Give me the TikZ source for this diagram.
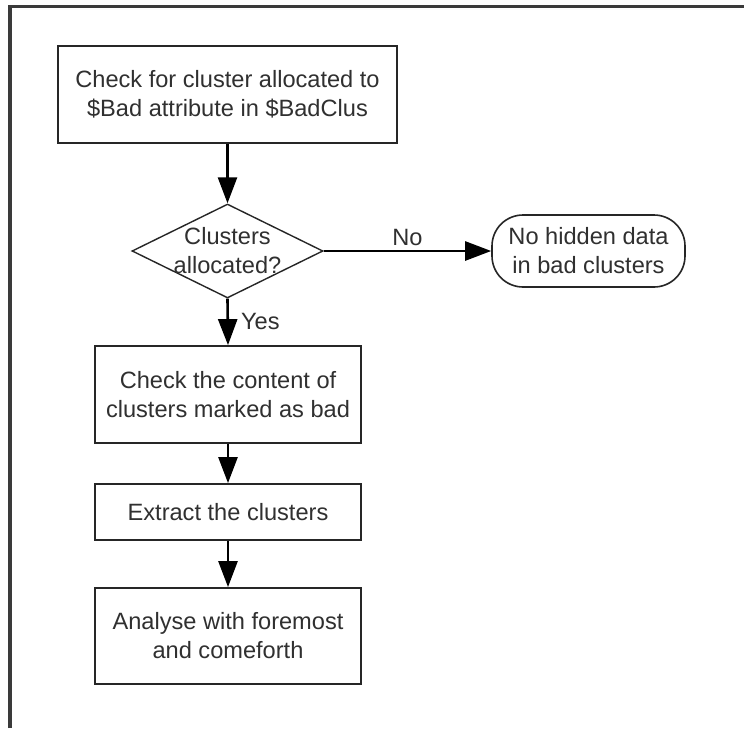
\documentclass[tikz,border=0pt]{standalone}
\usepackage{fontspec}
\setmainfont{Liberation Sans}
\usetikzlibrary{shapes.geometric,arrows.meta}
\definecolor{ink}{HTML}{262626}
\definecolor{txt}{HTML}{303030}
\definecolor{framec}{HTML}{3A3A3A}
\tikzset{
  chartfont/.style={font=\fontsize{23.6}{29}\selectfont, text=txt},
  stepbox/.style={draw=ink, line width=1.8pt, rectangle, inner sep=0pt,
    align=center, chartfont},
  decision/.style={draw=ink, line width=1.4pt, diamond, inner sep=0pt, aspect=2},
  endcap/.style={draw=ink, line width=1.6pt, rectangle, rounded corners=31pt,
    inner sep=0pt, align=center, chartfont},
  flow/.style={draw=black, line width=2.6pt,
    -{Triangle[length=26pt,width=19pt]}},
  tag/.style={chartfont, inner sep=1pt},
}
\begin{document}
\begin{tikzpicture}[x=1pt,y=-1pt]
  \useasboundingbox (0,0) rectangle (744,728);
  \fill[white] (0,0) rectangle (744,728);

  % outer frame: only the left and top edges are visible
  \coordinate (frameBL) at (10,728);
  \coordinate (frameTL) at (10,6.5);
  \coordinate (frameTR) at (744,6.5);
  \draw[framec, line width=3.5pt] (frameBL) -- (frameTL) -- (frameTR);

  % nodes
  \node[stepbox, minimum width=339pt, minimum height=97pt] (check) at (227.5,94.5)
    {Check for cluster allocated to\\\$Bad attribute in \$BadClus};
  \node[decision, minimum width=191pt, minimum height=94pt,
    label={[chartfont, align=center, inner sep=0pt]center:Clusters\\allocated?}]
    (alloc) at (227.5,251) {};
  \node[endcap, minimum width=193pt, minimum height=72pt] (nohidden) at (588.5,251)
    {No hidden data\\in bad clusters};
  \node[stepbox, minimum width=266pt, minimum height=97pt] (content) at (228,394.5)
    {Check the content of\\clusters marked as bad};
  \node[stepbox, minimum width=266pt, minimum height=56pt] (extract) at (228,512)
    {Extract the clusters};
  \node[stepbox, minimum width=266pt, minimum height=96pt] (analyse) at (228,636)
    {Analyse with foremost\\and comeforth};

  % connectors
  \draw[flow] (check.south) -- (alloc.north);
  \draw[flow] (alloc.east) -- node[tag, midway, above=3pt] {No} (nohidden.west);
  \draw[flow] (alloc.south) -- node[tag, midway, right=11pt] {Yes} (content.north);
  \draw[flow] (content.south) -- (extract.north);
  \draw[flow] (extract.south) -- (analyse.north);
\end{tikzpicture}
\end{document}
